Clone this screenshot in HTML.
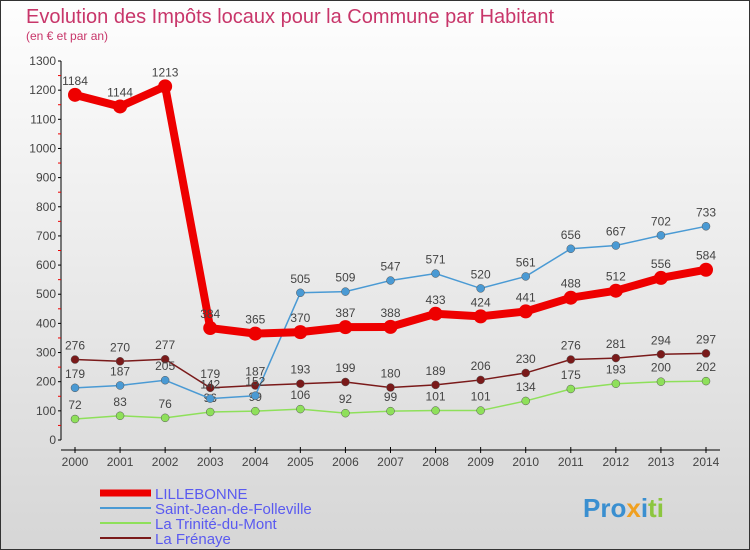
<!DOCTYPE html>
<html><head><meta charset="utf-8"><style>
body{margin:0;}
#c{width:750px;height:550px;position:relative;box-sizing:border-box;border:1px solid #333;background:linear-gradient(#fefefe,#d6d6d6);overflow:hidden;font-family:"Liberation Sans",sans-serif;}
</style></head><body>
<div id="c">
<svg id="s" width="750" height="550" style="position:absolute;left:-1px;top:-1px">
<text x="26" y="23" font-size="20" fill="#c8366a">Evolution des Impôts locaux pour la Commune par Habitant</text>
<text x="26" y="40" font-size="12" fill="#c8366a">(en € et par an)</text>
<g id="axes"></g><g id="marks"></g><g id="legend"></g>
<text x="583" y="517" font-size="26" font-weight="bold"><tspan fill="#3a8fd0">Pro</tspan><tspan fill="#f0a020">x</tspan><tspan fill="#3a8fd0">i</tspan><tspan fill="#8cc63f">ti</tspan></text>
</svg>
</div>
<script>
const years=[2000,2001,2002,2003,2004,2005,2006,2007,2008,2009,2010,2011,2012,2013,2014];
const lillebonne=[1184,1144,1213,384,365,370,387,388,433,424,441,488,512,556,584];
const saintJean=[179,187,205,142,152,505,509,547,571,520,561,656,667,702,733];
const trinite=[72,83,76,96,99,106,92,99,101,101,134,175,193,200,202];
const frenaye=[276,270,277,179,187,193,199,180,189,206,230,276,281,294,297];
const yTicks=[0,100,200,300,400,500,600,700,800,900,1000,1100,1200,1300];
const NS='http://www.w3.org/2000/svg';
function el(t,a,p){const e=document.createElementNS(NS,t);for(const k in a)e.setAttribute(k,a[k]);p.appendChild(e);return e;}
const X=i=>75+i*(631/(years.length-1));
const Y=v=>440-v*(379/1300);
const ax=document.getElementById('axes'),mk=document.getElementById('marks'),lg=document.getElementById('legend');
let yl=el('line',{x1:61,y1:Y(1300),x2:61,y2:440,stroke:'#000'},ax);


yTicks.forEach((v,k)=>{
 el('line',{x1:58,x2:61,y1:Y(v),y2:Y(v),stroke:'#000'},ax);
 if(k<yTicks.length-1) el('line',{x1:58,x2:61,y1:Y(v+50),y2:Y(v+50),stroke:'#e00'},ax);
 const t=el('text',{x:56,y:Y(v)+4,'text-anchor':'end','font-size':12,fill:'#444'},ax);t.textContent=v;
 
 
});
let xl=el('line',{x1:61,y1:450,x2:720,y2:450,stroke:'#000'},ax);


years.forEach((y,i)=>{
 el('line',{x1:X(i),x2:X(i),y1:447,y2:453,stroke:'#000'},ax);
 const t=el('text',{x:X(i),y:466,'text-anchor':'middle','font-size':12,fill:'#444'},ax);t.textContent=y;
 
 
});
const series=[
 {name:'frenaye',label:'La Frénaye',d:frenaye,c:'#7a1a1a',w:1.5,r:4},
 {name:'trinite',label:'La Trinité-du-Mont',d:trinite,c:'#8ee05a',w:1.5,r:4},
 {name:'saint-jean',label:'Saint-Jean-de-Folleville',d:saintJean,c:'#4a9ad4',w:1.5,r:4},
 {name:'lillebonne',label:'LILLEBONNE',d:lillebonne,c:'#ee0000',w:8,r:7}
];
series.forEach(s=>{
 const g=el('g',{},mk);
 
 
 const line=el('polyline',{points:s.d.map((v,i)=>X(i)+','+Y(v)).join(' '),fill:'none',stroke:s.c,'stroke-width':s.w},g);
 
 
 s.d.forEach((v,i)=>{
  const p=el('circle',{cx:X(i),cy:Y(v),r:s.r,fill:s.c,stroke:s.r>5?s.c:'#555','stroke-width':s.r>5?0:0.5},g);
  
  
  const t=el('text',{x:X(i),y:Y(v)-10,'text-anchor':'middle','font-size':12,fill:'#444'},g);t.textContent=v;
  
  
 });
});
const leg=[series[3],series[2],series[1],series[0]];
leg.forEach((s,i)=>{
 const y=493+i*15;
 const g=el('g',{},lg);
 
 
 el('line',{x1:100,x2:151,y1:y,y2:y,stroke:s.c,'stroke-width':i==0?7:2},g);
 const t=el('text',{x:155,y:y+6,'font-size':15,fill:'#5a5af0'},g);t.textContent=s.label;
});
</script>
</body></html>
